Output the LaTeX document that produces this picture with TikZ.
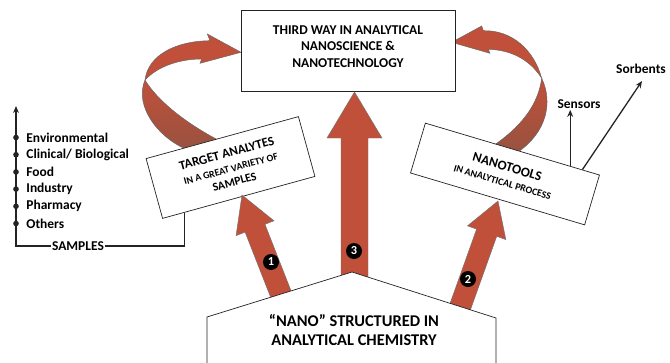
\documentclass[tikz,border=0pt]{standalone}
\usepackage{fontspec}
\setmainfont{Carlito}
\usetikzlibrary{calc,arrows.meta}
\definecolor{arrowred}{RGB}{193,80,58}
\definecolor{ribbondark}{RGB}{152,82,64}
\definecolor{inkgray}{RGB}{35,35,35}
% block arrow: name, base, tip, shaft half width, head half width, head length
\newcommand{\blockarrow}[6]{%
  \coordinate (#1-h) at ($(#3)!#6!(#2)$);
  \draw[blockarr] ($(#2)!#4!-90:(#3)$) -- ($(#1-h)!#4!90:(#2)$) -- ($(#1-h)!#5!90:(#2)$)
    -- (#3) -- ($(#1-h)!#5!-90:(#2)$) -- ($(#1-h)!#4!-90:(#2)$) -- ($(#2)!#4!90:(#3)$) -- cycle;
}
\begin{document}
\begin{tikzpicture}[x=0.03cm,y=-0.03cm,
  box/.style={draw=inkgray,fill=white,line width=0.6pt,align=center,inner sep=2pt},
  blockarr/.style={fill=arrowred,draw=black!55,line width=0.4pt},
  ribbon/.style={fill=arrowred,draw=black!60,line width=0.4pt},
  ribbonlow/.style={top color=arrowred,bottom color=ribbondark,draw=black!60,line width=0.4pt},
  badge/.style={circle,fill=black,text=white,inner sep=0pt,minimum size=0.48cm,font=\bfseries\fontsize{10.5}{10.5}\selectfont},
  item/.style={font=\bfseries\fontsize{11.5}{12}\selectfont,inner sep=1pt},
  pointer/.style={draw=inkgray,line width=1.1pt,-{Stealth[length=6pt,width=5pt]}}]
\useasboundingbox (0,0) rectangle (670,363);

% curved ribbons
\shade[ribbonlow] (145,80) .. controls (134,106) and (158,138) .. (188,150) -- (218,140)
  .. controls (184,122) and (157,100) .. (145,80) -- cycle;
\draw[ribbon] (145,80) .. controls (148,55) and (176,41) .. (210,40.7) -- (207.3,34) -- (241,52.3)
  -- (200,63.3) -- (201.7,59) .. controls (180,59) and (158,66) .. (145,80) -- cycle;
\shade[ribbonlow] (541.7,78.3) .. controls (553,102) and (547,132) .. (518,152) -- (490,148)
  .. controls (520,128) and (538,106) .. (541.7,78.3) -- cycle;
\draw[ribbon] (541.7,78.3) .. controls (534,50) and (512,30) .. (483.3,30.7) -- (481.7,26) -- (451.7,42.3)
  -- (490,53.3) -- (488.3,49.3) .. controls (512,50) and (530,60) .. (541.7,78.3) -- cycle;

% boxes
\node[box,minimum width=6.42cm,minimum height=2.43cm] (third) at (348,50.5) {};
\node[align=center,font=\bfseries\fontsize{11.5}{14}\selectfont] (thirdtxt) at (348,46.5)
  {THIRD WAY IN ANALYTICAL\\NANOSCIENCE \&\\NANOTECHNOLOGY};
\node[box,rotate=15.4,minimum width=4.74cm,minimum height=1.86cm,font=\bfseries] (target) at (230.5,167.5)
  {\fontsize{11}{12}\selectfont TARGET ANALYTES\\[1pt]
   \fontsize{8.5}{10}\selectfont IN A GREAT VARIETY OF\\SAMPLES};
\node[box,rotate=-16.6,minimum width=5.45cm,minimum height=1.56cm,font=\bfseries] (tools) at (505,174)
  {\fontsize{11.5}{12}\selectfont NANOTOOLS\\[1pt]
   \fontsize{8.5}{10}\selectfont IN ANALYTICAL PROCESS};

% block arrows
\path (285.8,306.7) coordinate (b1) (242,195) coordinate (t1)
      (457.6,314) coordinate (b2) (498,201) coordinate (t2)
      (354.5,292) coordinate (b3) (354.5,92) coordinate (t3);
\blockarrow{a1}{b1}{t1}{0.32cm}{0.61cm}{1.07cm}
\blockarrow{a2}{b2}{t2}{0.32cm}{0.61cm}{1.01cm}
\blockarrow{a3}{b3}{t3}{0.405cm}{0.825cm}{1.38cm}

% base shape
\draw[fill=white,draw=inkgray,line width=0.6pt] (207,370) -- (207,317) -- (352,272) -- (496,318) -- (496,370);
\node[align=center,font=\bfseries\fontsize{14}{17}\selectfont] (chem) at (354,330)
  {``NANO'' STRUCTURED IN\\ANALYTICAL CHEMISTRY};

\node[badge] (n1) at (271,262) {1};
\node[badge] (n2) at (468,279) {2};
\node[badge] (n3) at (354,251) {3};

% sensors, sorbents
\coordinate (sensbase) at ($(tools.north west)!0.83!(tools.north east)$);
\coordinate (sorbbase) at ($(tools.north west)!0.9!(tools.north east)$);
\node[item] (sensors) at (579,104) {Sensors};
\node[item] (sorbents) at (641,69) {Sorbents};
\coordinate (sorbtip) at (642,81);
\draw[pointer] (sensbase) -- (sensbase |- sensors.south);
\draw[pointer] (sorbbase) -- (sorbtip);

% samples
\foreach \lab [count=\i from 0] in {Environmental,Clinical/ Biological,Food,Industry,Pharmacy,Others}{
  \fill[inkgray] (16,137.5+17.2*\i) circle (2.4pt);
  \node[item,anchor=west] (s\i) at (25,137.5+17.2*\i) {\lab};
}
\node[item] (samples) at (78,246) {SAMPLES};
\coordinate (sampbase) at ($(target.south west)!0.144!(target.south east)$);
\coordinate (samptop) at (16,106);
\draw[pointer] (samples.west) -- (samples.west -| samptop) -- (samptop);
\draw[draw=inkgray,line width=1.1pt] (samples.east) -- (samples.east -| sampbase) -- (sampbase);
\end{tikzpicture}
\end{document}
